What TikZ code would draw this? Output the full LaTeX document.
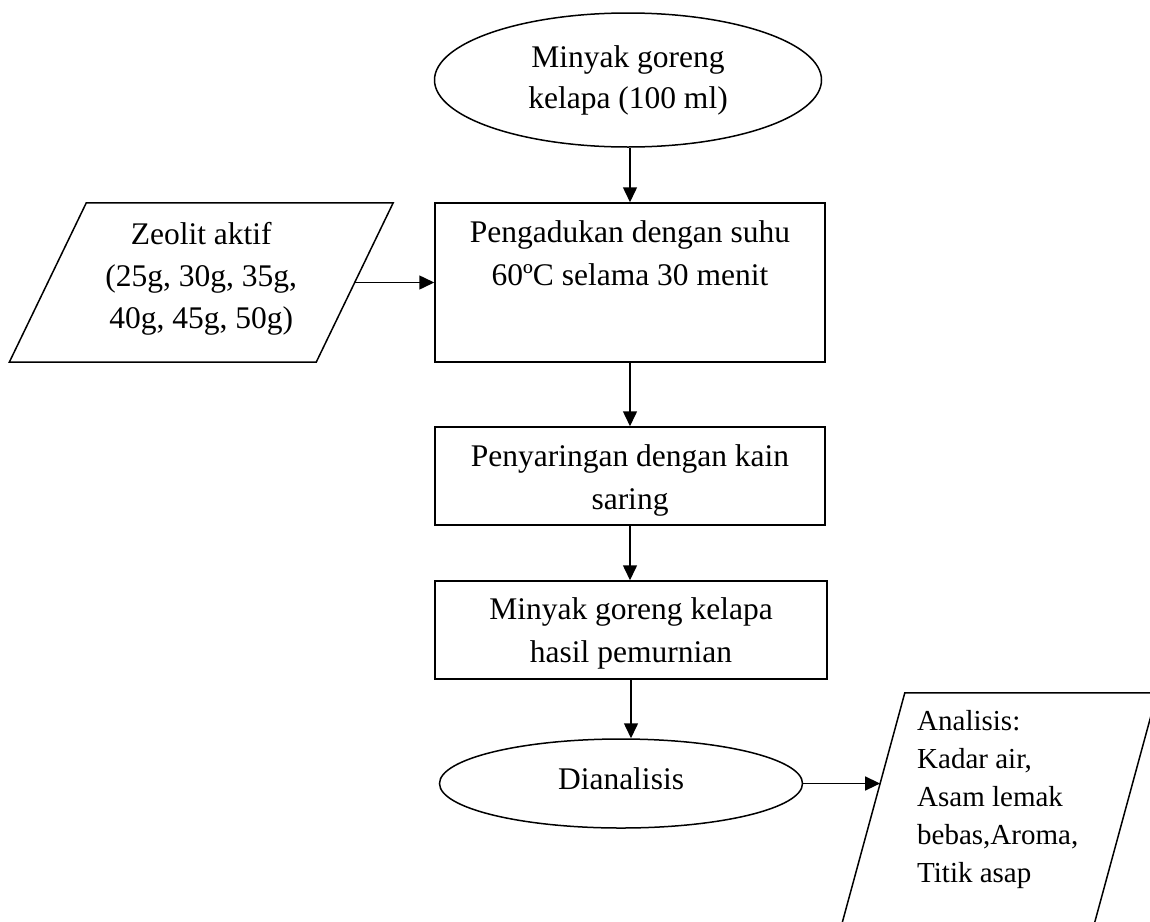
\documentclass[tikz,border=0pt]{standalone}
\usepackage{fontspec}
\setmainfont{Liberation Serif}
\usetikzlibrary{shapes.geometric,arrows.meta,calc}
\begin{document}
\begin{tikzpicture}[x=1pt,y=-1pt,
 every node/.style={font=\fontsize{31.5}{43}\selectfont},
 ln/.style={line width=1.5pt},
 arr/.style={line width=1.5pt,-{Triangle[length=15pt,width=14pt]}},
 box/.style={draw,line width=1.5pt,rectangle,inner sep=0pt},
 oval/.style={draw,line width=1.5pt,ellipse,inner sep=0pt,align=center},
 hid/.style={inner sep=0pt},
 tx/.style={align=center,inner sep=0pt,anchor=north}]
\useasboundingbox (0,0) rectangle (1150,921);
\clip (0,0) rectangle (1150,921);
\fill[white] (0,0) rectangle (1150,921);

\node[oval,minimum width=387pt,minimum height=134pt,font=\fontsize{31.5}{41}\selectfont] (e1) at (628,80) {Minyak goreng\\kelapa (100 ml)};

\node[box,minimum width=390pt,minimum height=159pt] (b1) at (630,282.5) {};
\node[tx] (b1t) at ([yshift=-10pt]b1.north) {\strut Pengadukan dengan suhu\\\strut 60ºC selama 30 menit};

\node[box,minimum width=390pt,minimum height=98pt] (b2) at (630,476) {};
\node[tx] (b2t) at ([yshift=-10pt]b2.north) {\strut Penyaringan dengan kain\\\strut saring};

\node[box,minimum width=392pt,minimum height=98pt] (b3) at (631,630) {};
\node[tx] (b3t) at ([yshift=-9pt]b3.north) {\strut Minyak goreng kelapa\\\strut hasil pemurnian};

\node[oval,minimum width=363pt,minimum height=89pt,text depth=10pt] (e2) at (621,783.5) {Dianalisis};

% Zeolit input
\node[hid,minimum width=306.5pt,minimum height=159pt] (z) at (201.25,282.5) {};
\draw[ln] ([xshift=38.5pt]z.north west) -- ([xshift=38.5pt]z.north east) -- ([xshift=-38.5pt]z.south east) -- ([xshift=-38.5pt]z.south west) -- cycle;
\node[tx,font=\fontsize{31.5}{42}\selectfont] (zt) at ([yshift=-11.6pt]z.north) {\strut Zeolit aktif\\\strut (25g, 30g, 35g,\\\strut 40g, 45g, 50g)};

% Analisis output
\node[hid,minimum width=252pt,minimum height=242pt] (a) at (998,814) {};
\draw[ln] ([xshift=33pt]a.north west) -- ([xshift=33pt]a.north east) -- ([xshift=-33pt]a.south east) -- ([xshift=-33pt]a.south west) -- cycle;
\node[tx,anchor=north west,align=left,font=\fontsize{29}{38}\selectfont] (at) at (917,703.4) {\strut Analisis:\\\strut Kadar air,\\\strut Asam lemak\\\strut bebas,Aroma,\\\strut Titik asap};
\coordinate (ain) at ($([xshift=33pt]a.north west)!0.374!([xshift=-33pt]a.south west)$);

% connectors
\draw[arr] (e1.south -| b1.north) -- (b1.north);
\draw[arr] (b1.south) -- (b2.north);
\draw[arr] (b2.south) -- (b2.south |- b3.north);
\draw[arr] (b3.south) -- (b3.south |- e2.north);
\draw[arr] (z.east) -- (z.east -| b1.west);
\draw[arr] (e2.east) -- (e2.east -| ain);
\end{tikzpicture}
\end{document}
